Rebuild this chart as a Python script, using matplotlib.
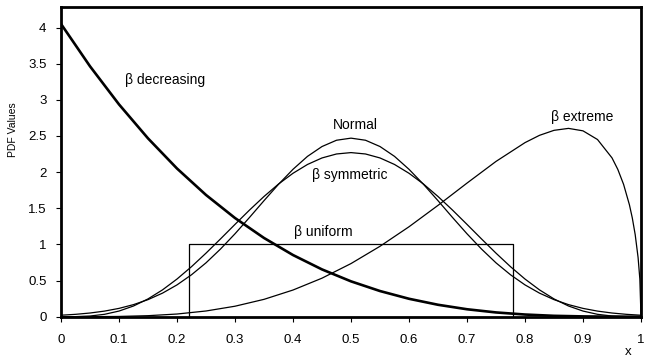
import matplotlib
matplotlib.use("Agg")
import matplotlib.pyplot as plt

plt.rcParams['font.family'] = ['Liberation Sans', 'DejaVu Sans']

# ---- data ----
x_dec = [0.0, 0.05, 0.1, 0.15, 0.2, 0.25, 0.3, 0.35, 0.4, 0.45, 0.5,
         0.55, 0.6, 0.65, 0.7, 0.75, 0.8, 0.85, 0.9, 0.95, 1.0]
y_dec = [4.05, 3.464, 2.937, 2.467, 2.050, 1.684, 1.365, 1.089, 0.853, 0.654, 0.489,
         0.355, 0.248, 0.165, 0.103, 0.059, 0.030, 0.012, 0.004, 0.0004, 0.0]

x_sym = [0.0, 0.025, 0.05, 0.075, 0.1, 0.125, 0.15, 0.175, 0.2, 0.225, 0.25,
         0.275, 0.3, 0.325, 0.35, 0.375, 0.4, 0.425, 0.45, 0.475, 0.5,
         0.525, 0.55, 0.575, 0.6, 0.625, 0.65, 0.675, 0.7, 0.725, 0.75,
         0.775, 0.8, 0.825, 0.85, 0.875, 0.9, 0.925, 0.95, 0.975, 1.0]

y_normal = [0.0205, 0.0327, 0.0509, 0.0774, 0.115, 0.167, 0.236, 0.326, 0.440, 0.580, 0.745,
            0.936, 1.147, 1.373, 1.605, 1.831, 2.039, 2.218, 2.354, 2.441, 2.470,
            2.441, 2.354, 2.218, 2.039, 1.831, 1.605, 1.373, 1.147, 0.936, 0.745,
            0.580, 0.440, 0.326, 0.236, 0.167, 0.115, 0.0774, 0.0509, 0.0327, 0.0205]

y_symmetric = [0.0, 0.001, 0.0095, 0.033, 0.078, 0.148, 0.246, 0.371, 0.521, 0.692, 0.879,
               1.076, 1.277, 1.475, 1.663, 1.835, 1.984, 2.106, 2.196, 2.251, 2.270,
               2.251, 2.196, 2.106, 1.984, 1.835, 1.663, 1.475, 1.277, 1.076, 0.879,
               0.692, 0.521, 0.371, 0.246, 0.148, 0.078, 0.033, 0.0095, 0.001, 0.0]

x_ext = [0.0, 0.05, 0.1, 0.15, 0.2, 0.25, 0.3, 0.35, 0.4, 0.45, 0.5, 0.55, 0.6,
         0.65, 0.7, 0.75, 0.8, 0.825, 0.85, 0.875, 0.9, 0.925, 0.95, 0.96, 0.97,
         0.98, 0.985, 0.99, 0.995, 0.998, 1.0]
y_ext = [0.0, 0.0003, 0.0035, 0.014, 0.037, 0.079, 0.145, 0.240, 0.369, 0.533, 0.735,
         0.974, 1.244, 1.540, 1.848, 2.148, 2.408, 2.509, 2.578, 2.605, 2.571, 2.451,
         2.197, 2.038, 1.830, 1.549, 1.366, 1.135, 0.817, 0.522, 0.0]

x_uni = [0.22, 0.22, 0.78, 0.78]
y_uni = [0.0, 1.0, 1.0, 0.0]

x_ticks = [0, 0.1, 0.2, 0.3, 0.4, 0.5, 0.6, 0.7, 0.8, 0.9, 1]
x_ticklabels = ["0", "0.1", "0.2", "0.3", "0.4", "0.5", "0.6", "0.7", "0.8", "0.9", "1"]
y_ticks = [0, 0.5, 1, 1.5, 2, 2.5, 3, 3.5, 4]
y_ticklabels = ["0", "0.5", "1", "1.5", "2", "2.5", "3", "3.5", "4"]

labels = ["\u03b2 decreasing", "Normal", "\u03b2 symmetric", "\u03b2 uniform", "\u03b2 extreme"]
label_x = [0.18, 0.507, 0.498, 0.452, 0.898]
label_y = [3.27, 2.65, 1.96, 1.17, 2.76]

# ---- figure ----
fig = plt.figure(figsize=(6.47, 3.60), dpi=100)
ax = fig.add_axes([61 / 647, 1 - 316.7 / 360, 580 / 647, (316.7 - 7.3) / 360])

thin = 0.9
ax.plot(x_uni, y_uni, color='black', lw=thin)
ax.plot(x_sym, y_normal, color='black', lw=thin)
ax.plot(x_sym, y_symmetric, color='black', lw=thin)
ax.plot(x_ext, y_ext, color='black', lw=thin)
ax.plot(x_dec, y_dec, color='black', lw=1.9)

for t, lx, ly in zip(labels, label_x, label_y):
    ax.text(lx, ly, t, ha='center', va='center', fontsize=10)

ax.set_xlim(0, 1)
ax.set_ylim(0, 4.28)
ax.set_xticks(x_ticks)
ax.set_xticklabels(x_ticklabels)
ax.set_yticks(y_ticks)
ax.set_yticklabels(y_ticklabels)
ax.tick_params(axis='both', direction='out', length=3.5, width=0.8, labelsize=9.5)
ax.tick_params(axis='x', pad=9)
ax.tick_params(axis='y', pad=7)
for s in ax.spines.values():
    s.set_linewidth(2.0)
    s.set_color('black')

fig.text(13 / 647, 1 - 130 / 360, "PDF Values", rotation=90, ha='center', va='center', fontsize=7.5)
fig.text(628 / 647, 1 - 352 / 360, "x", ha='center', va='center', fontsize=9.5)

fig.savefig("out.png", dpi=100)
